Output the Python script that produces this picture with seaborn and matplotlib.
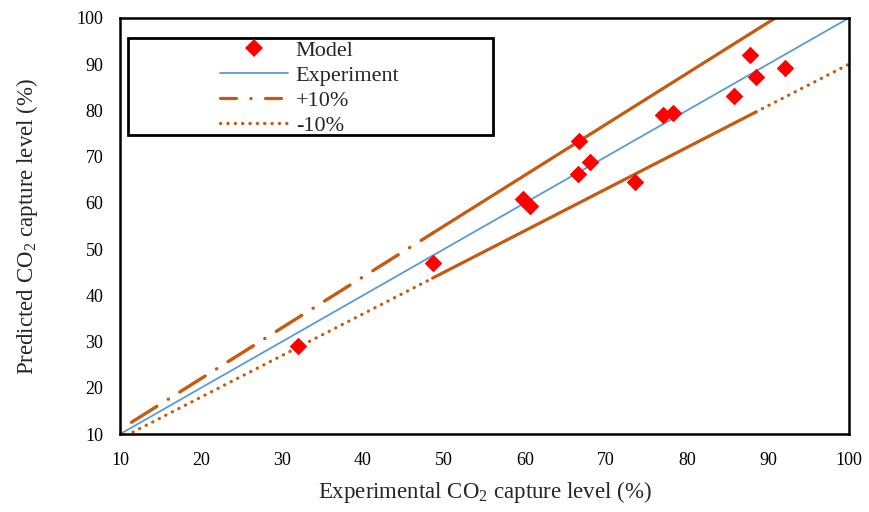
import numpy as np
import pandas as pd
import matplotlib
matplotlib.use("Agg")
import matplotlib.pyplot as plt
from matplotlib.lines import Line2D
from matplotlib.patches import Rectangle
import seaborn as sns

# model vs experiment
exp_x = [32.0, 48.6, 59.8, 60.6, 66.5, 66.7, 68.0, 73.6, 77.0, 78.3, 85.8, 87.8, 88.5, 92.1]
pred_y = [29.0, 47.0, 60.9, 59.3, 66.3, 73.4, 68.8, 64.5, 79.0, 79.4, 83.1, 92.0, 87.2, 89.2]

# x ranges of the reference lines
parity_x = [10, 100]
plus_dash_x = [10, 48.6]
plus_solid_x = [48.6, 92.1]
minus_dot_x = [10, 48.6]
minus_solid_x = [48.6, 88.5]
minus_dot2_x = [88.5, 100]

ticks = [10, 20, 30, 40, 50, 60, 70, 80, 90, 100]
labels = ["Model", "Experiment", "+10%", "-10%"]

orange = "#C55A11"
blue = "#5B9BD5"
red = "#FF0000"

sns.set_theme(style="white")
plt.rcParams["font.family"] = ["Liberation Serif", "DejaVu Serif"]
plt.rcParams["mathtext.fontset"] = "custom"
plt.rcParams["mathtext.rm"] = "Liberation Serif"

fig = plt.figure(figsize=(8.69, 5.12), dpi=100)
ax = fig.add_axes([0.138, 0.152, 0.839, 0.813])

df = pd.DataFrame({"exp": exp_x, "pred": pred_y})

def band(xs, f):
    xs = np.array(xs, dtype=float)
    return pd.DataFrame({"x": xs, "y": xs * f})

dash_dot = (13, (9, 4, 0.1, 4))
dotted = (0, (0.1, 2.2))

sns.lineplot(data=band(parity_x, 1.0), x="x", y="y", ax=ax, color=blue, lw=1.3)
sns.lineplot(data=band(plus_dash_x, 1.1), x="x", y="y", ax=ax, color=orange, lw=2.4,
             linestyle=dash_dot, dash_capstyle="round")
sns.lineplot(data=band(plus_solid_x, 1.1), x="x", y="y", ax=ax, color=orange, lw=2.3)
sns.lineplot(data=band(minus_dot_x, 0.9), x="x", y="y", ax=ax, color=orange, lw=2.3,
             linestyle=dotted, dash_capstyle="round")
sns.lineplot(data=band(minus_solid_x, 0.9), x="x", y="y", ax=ax, color=orange, lw=2.3)
sns.lineplot(data=band(minus_dot2_x, 0.9), x="x", y="y", ax=ax, color=orange, lw=2.3,
             linestyle=dotted, dash_capstyle="round")
sns.scatterplot(data=df, x="exp", y="pred", ax=ax, marker="D", s=80, color=red,
                linewidth=0, zorder=5)

ax.set_xlim(10, 100)
ax.set_ylim(10, 100)
ax.set_xticks(ticks)
ax.set_yticks(ticks)
ax.tick_params(axis="both", length=0, labelsize=13, colors="black")
ax.tick_params(axis="x", pad=13)
ax.tick_params(axis="y", pad=12)
for s in ax.spines.values():
    s.set_color("black")
    s.set_linewidth(1.8)

ax.set_xlabel(r"Experimental CO$_{\mathregular{2}}$ capture level (%)", fontsize=16.5, labelpad=7)
ax.set_ylabel(r"Predicted CO$_{\mathregular{2}}$ capture level (%)", fontsize=16.5, labelpad=26)

# legend box
ax.add_patch(Rectangle((0.011, 0.719), 0.501, 0.233, transform=ax.transAxes,
                       facecolor="white", edgecolor="black", lw=2.0, zorder=6))

handles = [
    Line2D([], [], ls="none", marker="D", markersize=9, color=red, markeredgewidth=0),
    Line2D([], [], color=blue, lw=1.3),
    Line2D([], [], color=orange, lw=2.3, linestyle=(0, (5, 4.5, 0.1, 4.5)), dash_capstyle="round"),
    Line2D([], [], color=orange, lw=2.3, linestyle=dotted, dash_capstyle="round"),
]
leg = ax.legend(handles, labels, loc="upper left", bbox_to_anchor=(0.137, 0.946),
                frameon=False, fontsize=16, handlelength=3.06, handletextpad=0.36,
                labelspacing=0.2, borderpad=0, borderaxespad=0)
leg.set_zorder(7)

fig.savefig("out.png", dpi=100)
